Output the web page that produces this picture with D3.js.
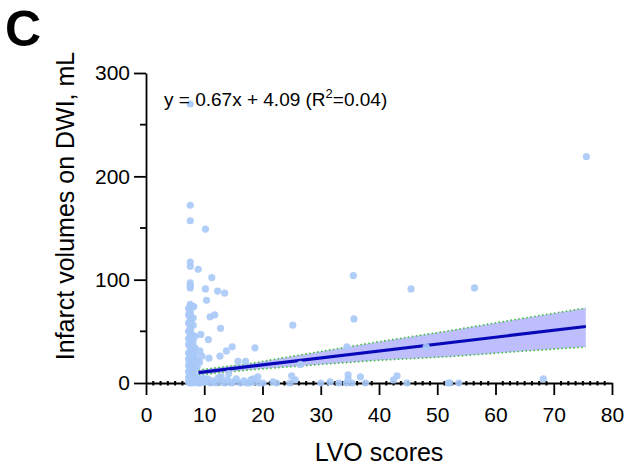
<!DOCTYPE html>
<html><head><meta charset="utf-8">
<script src="https://cdn.jsdelivr.net/npm/d3@7"></script>
<style>body{margin:0;background:#fff}svg{display:block}text{font-family:Arial,"Liberation Sans",sans-serif}</style>
</head><body><svg id="c" width="631" height="469"></svg>
<script>
// ---- data ----
const xTicks = [0,10,20,30,40,50,60,70,80];
const yTicks = [0,100,200,300];
const yMinorTicks = [50,150,250];
const xLabel = "LVO scores";
const yLabel = "Infarct volumes on DWI, mL";
const panelLabel = "C";
// scatter points: LVO score, infarct volume
const pointX = [
 7.6,7.6,7.6,7.6,7.6,7.6,7.6,7.6,7.6,7.6,7.6,7.6,7.6,7.6,7.6,7.6,7.6,7.6,7.6,7.6,
 7.6,7.6,7.6,7.6,7.6,7.6,7.6,7.6,7.6,7.6,7.6,7.6,7.6,7.6,7.6,7.6,7.6,7.6,7.6,7.6,
 8.1,8.1,8.1,8.1,8.1,8.1,8.1,8.1,8.1,8.1,8.1,8.1,8.1,8.1,8.1,8.1,
 7.3,7.3,7.3,7.3,7.3,7.3,7.3,7.3,7.3,7.3,7.3,7.3,
 8.4,8.4,8.4,8.4,8.4,8.4,8.4,8.4,
 8.8,8.8,8.8,9.2,9.2,9.2,9.6,9.6,10.0,10.0,10.4,
 10.2,8.96,11.3,10.2,12.3,13.5,10.4,8.2,11.8,11.0,12.8,10.7,9.25,13.8,14.8,12.7,15.8,17.1,18.7,9.0,
 9.0,9.5,10.0,10.6,11.0,11.5,12.0,12.4,13.0,13.5,14.0,14.6,15.0,15.5,16.2,16.8,17.3,18.0,18.5,19.5,
 12.9,14.2,8.9,9.6,10.8,9.4,
 17.8,18.4,19.2,20.1,21.8,22.4,24.7,25.0,25.6,26.5,25.2,
 30.0,31.6,33.1,34.4,34.7,34.7,35.4,36.8,37.7,42.5,43.1,44.8,34.5,35.7,35.6,45.5,48.1,
 51.9,52.1,53.7,56.4,68.2,75.6
];
const pointY = [
 0,2,4,6,8,10,12,14,16,18,20,22,25,28,30,33,36,38,41,44,
 48,51,53,55,58,60,62,64,67,70,74,76,92,94,97,113,117,157,172,270,
 0,3,6,9,12,15,19,24,27,32,35,40,46,56,63,74,
 1,5,11,17,23,29,37,43,50,58,66,72,
 2,7,13,18,22,28,34,45,
 1,4,16,0,3,20,2,5,1,4,2,
 149,110,102,91,89,87,80,74,66,64,53,42,31,31,35,26,21,21,34,1,
 0,2,1,4,0,2,0,5,1,0,3,0,1,4,0,2,0,3,1,0,
 6,9,22,26,24,47,
 0,4,6,0,1,0,0,7,3,18,56,
 0,1,0,0,8,4,0,6,0,3,7,0,35,62,104,91,35,
 0,0,0,92,4,219
];
// regression line end points and 95% confidence band
const lineX = [9, 75.5];
const lineY = [10.1, 54.7];
const bandX = [9, 18, 30, 40, 52, 64, 75.5];
const bandUpper = [12.5, 19, 30.5, 40, 50.5, 62, 72.6];
const bandLower = [7.8, 12.8, 18, 22, 25.5, 30.5, 34.8];
const eqText = "y = 0.67x + 4.09 (R";
const eqSup = "2";
const eqTail = "=0.04)";

// ---- drawing ----
const svg = d3.select("#c");
const x = d3.scaleLinear().domain([0,80]).range([146,612]);
const y = d3.scaleLinear().domain([0,300]).range([383,73]);

// axes
const xAxis = svg.append("g").attr("transform","translate(0,383)")
  .call(d3.axisBottom(x).tickValues(xTicks).tickSize(12).tickSizeOuter(0));
xAxis.selectAll("text").attr("y",39).attr("dy",null).attr("font-size",21).attr("fill","#000")
  .style("font-family","Arial, 'Liberation Sans', sans-serif");
const yAxis = svg.append("g").attr("transform","translate(146,0)")
  .call(d3.axisLeft(y).tickValues(yTicks).tickSize(12).tickSizeOuter(0).tickPadding(4));
yAxis.selectAll("text").attr("font-size",21).attr("fill","#000")
  .style("font-family","Arial, 'Liberation Sans', sans-serif");
[xAxis,yAxis].forEach(a=>{a.selectAll("path,line").attr("stroke","#000").attr("stroke-width",1.8);});

// minor ticks
const xMinor = d3.range(0,80.01,1.25).filter(v=>Math.abs(v/10-Math.round(v/10))>1e-6);
svg.append("g").selectAll("line").data(xMinor).join("line")
  .attr("x1",d=>x(d)).attr("x2",d=>x(d)).attr("y1",381).attr("y2",385.5)
  .attr("stroke","#000").attr("stroke-width",2);
svg.append("g").selectAll("line").data(yMinorTicks).join("line")
  .attr("x1",140).attr("x2",146).attr("y1",d=>y(d)).attr("y2",d=>y(d))
  .attr("stroke","#000").attr("stroke-width",1.8);

// band
const band = bandX.map((d,i)=>({x:d,u:bandUpper[i],l:bandLower[i]}));
svg.append("path").datum(band)
  .attr("d", d3.area().x(d=>x(d.x)).y0(d=>y(d.l)).y1(d=>y(d.u)))
  .attr("fill","#bebefc");
svg.append("path").datum(band).attr("d", d3.line().x(d=>x(d.x)).y(d=>y(d.u)))
  .attr("fill","none").attr("stroke","#3cc03c").attr("stroke-width",1.6).attr("stroke-dasharray","1.5,2.5");
svg.append("path").datum(band).attr("d", d3.line().x(d=>x(d.x)).y(d=>y(d.l)))
  .attr("fill","none").attr("stroke","#3cc03c").attr("stroke-width",1.6).attr("stroke-dasharray","1.5,2.5");

// regression line
svg.append("path").datum(lineX.map((d,i)=>[d,lineY[i]]))
  .attr("d", d3.line().x(d=>x(d[0])).y(d=>y(d[1])))
  .attr("fill","none").attr("stroke","#0808b8").attr("stroke-width",3.2);

// points
svg.append("g").selectAll("circle").data(pointX.map((d,i)=>[d,pointY[i]])).join("circle")
  .attr("cx",d=>x(d[0])).attr("cy",d=>y(d[1])).attr("r",3.6)
  .attr("fill","#a8c9f7").attr("fill-opacity",0.9);

// titles
svg.append("text").attr("x",379).attr("y",461).attr("text-anchor","middle")
  .attr("font-size",25).text(xLabel);
svg.append("text").attr("transform","translate(74,206) rotate(-90)").attr("text-anchor","middle")
  .attr("font-size",25).text(yLabel);
svg.append("text").attr("x",5).attr("y",46).attr("font-size",50).attr("font-weight","bold").text(panelLabel);

// equation
const eq = svg.append("text").attr("x",164).attr("y",106).attr("font-size",19);
eq.append("tspan").text(eqText);
eq.append("tspan").attr("font-size",13).attr("dy",-8).text(eqSup);
eq.append("tspan").attr("dy",8).text(eqTail);
</script></body></html>
